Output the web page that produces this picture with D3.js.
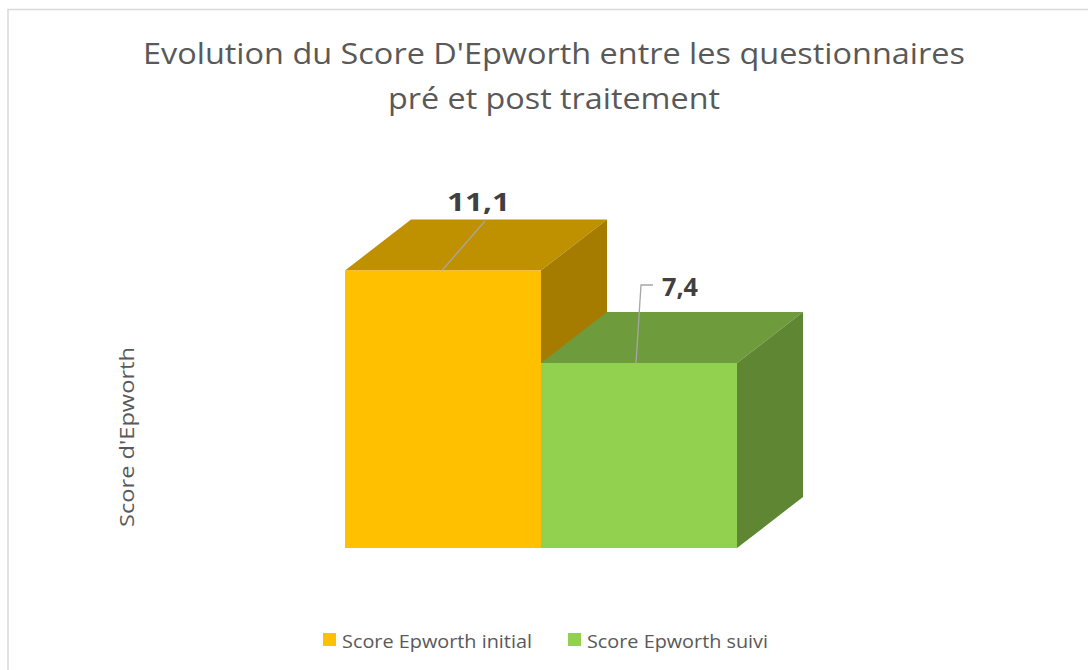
<!DOCTYPE html>
<html>
<head>
<meta charset="utf-8">
<script src="https://cdn.jsdelivr.net/npm/d3@7"></script>
<style>
  html, body { margin: 0; padding: 0; background: #fff; }
  svg { display: block; }
  text { font-family: "Open Sans", "Noto Sans", sans-serif; }
</style>
</head>
<body>
<svg id="chart" width="1088" height="670"></svg>
<script>
// ---- data ----
const categories = ["Score Epworth initial", "Score Epworth suivi"];
const values = [11.1, 7.4];
const valueLabels = ["11,1", "7,4"];
const frontColors = ["#FFC000", "#92D050"];
const topColors = ["#BF9000", "#6E9B3C"];
const sideColors = ["#A67C00", "#5F8632"];
const titleLines = ["Evolution du Score D'Epworth entre les questionnaires", "pré et post traitement"];
const yAxisTitle = "Score d'Epworth";

const svg = d3.select("#chart");
const W = 1088, H = 670;

// border
svg.append("rect").attr("x", 8).attr("y", 9.5).attr("width", W + 10).attr("height", H + 10)
  .attr("fill", "#fff").attr("stroke", "#d9d9d9").attr("stroke-width", 1.5);

function fit(sel, target) {
  sel.attr("textLength", target).attr("lengthAdjust", "spacingAndGlyphs");
}

// title
const tW = [822, 332];
const tY = [64, 109];
titleLines.forEach((t, i) => {
  const tx = svg.append("text").attr("x", 554).attr("y", tY[i]).attr("text-anchor", "middle")
    .attr("font-size", 28.5).attr("fill", "#595959").text(t);
  fit(tx, tW[i]);
});

// scales
const x = d3.scaleBand().domain(categories).range([345, 737]).paddingInner(0).paddingOuter(0);
const y = d3.scaleLinear().domain([0, 12]).range([548, 248]);
const dx = 66, dy = -51;

const g = svg.append("g");
categories.forEach((c, i) => {
  const x0 = x(c), x1 = x(c) + x.bandwidth();
  const yt = y(values[i]), yb = y(0);
  const bar = g.append("g");
  bar.append("path").attr("d", `M${x0},${yt}L${x0+dx},${yt+dy}L${x1+dx},${yt+dy}L${x1},${yt}Z`)
    .attr("fill", topColors[i]);
  bar.append("path").attr("d", `M${x1},${yt}L${x1+dx},${yt+dy}L${x1+dx},${yb+dy}L${x1},${yb}Z`)
    .attr("fill", sideColors[i]);
  bar.append("rect").attr("x", x0).attr("y", yt).attr("width", x1 - x0).attr("height", yb - yt)
    .attr("fill", frontColors[i]);
});

// data labels with leader lines
const lbl0 = svg.append("text").attr("x", 447).attr("y", 211)
  .attr("font-size", 25).attr("font-weight", "bold").attr("fill", "#404040").text(valueLabels[0]);
fit(lbl0, 63);
svg.append("path").attr("d", `M${x(categories[0]) + 97},${y(values[0])}L${485},${221}`)
  .attr("stroke", "#a6a6a6").attr("stroke-width", 1.3).attr("fill", "none");

const lbl1 = svg.append("text").attr("x", 662).attr("y", 296)
  .attr("font-size", 25).attr("font-weight", "bold").attr("fill", "#404040").text(valueLabels[1]);
fit(lbl1, 36);
svg.append("path").attr("d", `M${x(categories[1]) + 95},${y(values[1])}L${641},${285}L${653},${285}`)
  .attr("stroke", "#a6a6a6").attr("stroke-width", 1.3).attr("fill", "none");

// y axis title
const yt = svg.append("text").attr("transform", "translate(134,437) rotate(-90)")
  .attr("text-anchor", "middle").attr("font-size", 19.5).attr("fill", "#595959").text(yAxisTitle);
fit(yt, 180);

// legend
const legX = [323, 568];
const legW = [190, 181];
categories.forEach((c, i) => {
  svg.append("rect").attr("x", legX[i]).attr("y", 633).attr("width", 13).attr("height", 13)
    .attr("fill", frontColors[i]);
  const t = svg.append("text").attr("x", legX[i] + 19).attr("y", 648).attr("font-size", 18.5)
    .attr("fill", "#595959").text(c);
  fit(t, legW[i]);
});
</script>
</body>
</html>
